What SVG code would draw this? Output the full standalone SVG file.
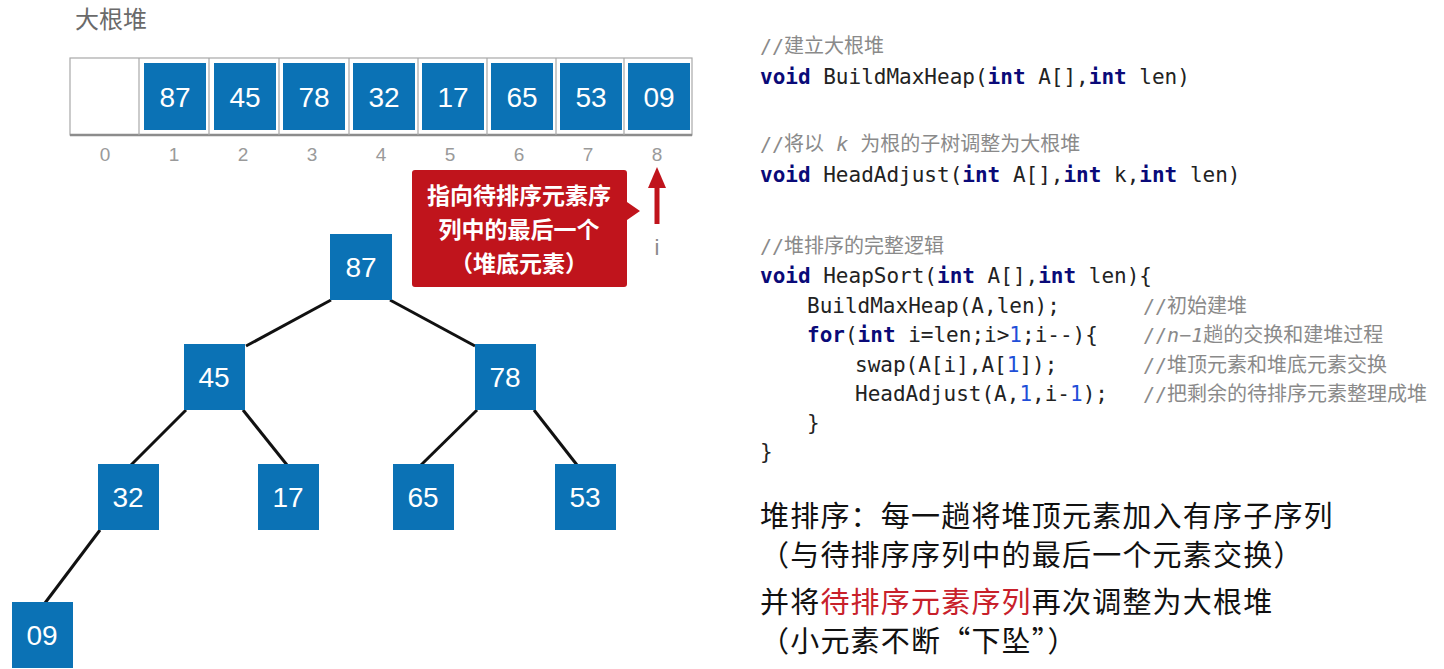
<svg xmlns="http://www.w3.org/2000/svg" width="1444" height="669" viewBox="0 0 1444 669">
<style>
.node rect{fill:#0B72B5}
.num{font-family:"Liberation Sans",Arial,sans-serif;font-size:28px;fill:#fff;text-anchor:middle}
.idx{font-family:"Liberation Sans",Arial,sans-serif;font-size:19px;fill:#9a9a9a;text-anchor:middle}
.code{font-family:"DejaVu Sans Mono","Noto Sans CJK SC",monospace;font-size:21px;fill:#222}
.cm{fill:#8a8a8a;font-size:20px}
.kw{fill:#0a0a78;font-weight:bold}
.n{fill:#1f4fd8}
.big{font-family:"Noto Sans CJK SC","Liberation Sans",sans-serif;font-size:29px;letter-spacing:1.2px;fill:#111}
.edge{stroke:#111;stroke-width:3;fill:none}
</style>
<rect width="1444" height="669" fill="#fff"/>
<text x="75" y="28" font-family="Noto Sans CJK SC, sans-serif" font-size="24" fill="#6a6a6a">大根堆</text>

<g id="array">
<rect x="70" y="58" width="622" height="77" fill="#fff" stroke="#a8a8a8" stroke-width="1.2"/>
<line x1="70" y1="135" x2="692" y2="135" stroke="#8c8c8c" stroke-width="2.5"/>
<g stroke="#a8a8a8" stroke-width="1.2">
<line x1="139" y1="58" x2="139" y2="135"/><line x1="209" y1="58" x2="209" y2="135"/><line x1="279" y1="58" x2="279" y2="135"/><line x1="349" y1="58" x2="349" y2="135"/><line x1="418" y1="58" x2="418" y2="135"/><line x1="487" y1="58" x2="487" y2="135"/><line x1="556" y1="58" x2="556" y2="135"/><line x1="624" y1="58" x2="624" y2="135"/>
</g>
<g class="node">
<rect x="144" y="63" width="62" height="67"/><rect x="214" y="63" width="62" height="67"/><rect x="283" y="63" width="62" height="67"/><rect x="353" y="63" width="62" height="67"/><rect x="422" y="63" width="62" height="67"/><rect x="491" y="63" width="62" height="67"/><rect x="560" y="63" width="62" height="67"/><rect x="628" y="63" width="62" height="67"/>
</g>
<text class="num" x="175" y="107">87</text><text class="num" x="245" y="107">45</text><text class="num" x="314" y="107">78</text><text class="num" x="384" y="107">32</text><text class="num" x="453" y="107">17</text><text class="num" x="522" y="107">65</text><text class="num" x="591" y="107">53</text><text class="num" x="659" y="107">09</text>
<text class="idx" x="105" y="161">0</text><text class="idx" x="174" y="161">1</text><text class="idx" x="243" y="161">2</text><text class="idx" x="312" y="161">3</text><text class="idx" x="381" y="161">4</text><text class="idx" x="450" y="161">5</text><text class="idx" x="519" y="161">6</text><text class="idx" x="588" y="161">7</text><text class="idx" x="657" y="161">8</text>
</g>

<g id="callout">
<path d="M415 170 H624 a3 3 0 0 1 3 3 V202 L640 211 L627 220 V284 a3 3 0 0 1 -3 3 H415 a3 3 0 0 1 -3 -3 V173 a3 3 0 0 1 3 -3 Z" fill="#C0141C"/>
<g font-family="Noto Sans CJK SC, sans-serif" font-size="23" font-weight="bold" fill="#fff" text-anchor="middle">
<text x="519" y="204">指向待排序元素序</text>
<text x="519" y="238">列中的最后一个</text>
<text x="519" y="272">（堆底元素）</text>
</g>
</g>

<g id="pointer-i">
<line x1="657" y1="186" x2="657" y2="224" stroke="#C0141C" stroke-width="5"/>
<polygon points="657,167 666,188 648,188" fill="#C0141C"/>
<text x="657" y="255" font-family="Liberation Sans, sans-serif" font-size="22" fill="#8a8a8a" text-anchor="middle">i</text>
</g>

<g id="connectors">
<line class="edge" x1="331" y1="300" x2="246" y2="346"/>
<line class="edge" x1="390" y1="300" x2="475" y2="346"/>
<line class="edge" x1="186" y1="410" x2="131" y2="465"/>
<line class="edge" x1="243" y1="410" x2="287" y2="465"/>
<line class="edge" x1="477" y1="410" x2="421" y2="465"/>
<line class="edge" x1="534" y1="410" x2="577" y2="465"/>
<line class="edge" x1="100" y1="530" x2="45" y2="603"/>
</g>

<g id="n87" class="node"><rect x="330" y="234" width="62" height="66"/><text class="num" x="361" y="277">87</text></g>
<g id="n45" class="node"><rect x="184" y="344" width="61" height="66"/><text class="num" x="214" y="387">45</text></g>
<g id="n78" class="node"><rect x="475" y="344" width="61" height="66"/><text class="num" x="505" y="387">78</text></g>
<g id="n32" class="node"><rect x="98" y="464" width="61" height="66"/><text class="num" x="128" y="507">32</text></g>
<g id="n17" class="node"><rect x="258" y="464" width="61" height="66"/><text class="num" x="288" y="507">17</text></g>
<g id="n65" class="node"><rect x="393" y="464" width="61" height="66"/><text class="num" x="423" y="507">65</text></g>
<g id="n53" class="node"><rect x="555" y="464" width="61" height="66"/><text class="num" x="585" y="507">53</text></g>
<g id="n09" class="node"><rect x="12" y="602" width="61" height="66"/><text class="num" x="42" y="645">09</text></g>

<g id="code" class="code">
<text x="760" y="53" class="cm">//建立大根堆</text>
<text x="760" y="84"><tspan class="kw">void</tspan> BuildMaxHeap(<tspan class="kw">int</tspan> A[],<tspan class="kw">int</tspan> len)</text>
<text x="760" y="151" class="cm">//将以 <tspan font-style="italic">k</tspan> 为根的子树调整为大根堆</text>
<text x="760" y="182"><tspan class="kw">void</tspan> HeadAdjust(<tspan class="kw">int</tspan> A[],<tspan class="kw">int</tspan> k,<tspan class="kw">int</tspan> len)</text>
<text x="760" y="253" class="cm">//堆排序的完整逻辑</text>
<text x="760" y="283"><tspan class="kw">void</tspan> HeapSort(<tspan class="kw">int</tspan> A[],<tspan class="kw">int</tspan> len){</text>
<text x="807" y="313">BuildMaxHeap(A,len);</text>
<text x="1143" y="313" class="cm">//初始建堆</text>
<text x="807" y="342"><tspan class="kw">for</tspan>(<tspan class="kw">int</tspan> i=len;i&gt;<tspan class="n">1</tspan>;i--){</text>
<text x="1143" y="342" class="cm">//<tspan font-style="italic">n−1</tspan>趟的交换和建堆过程</text>
<text x="855" y="372">swap(A[i],A[<tspan class="n">1</tspan>]);</text>
<text x="1143" y="372" class="cm">//堆顶元素和堆底元素交换</text>
<text x="855" y="401">HeadAdjust(A,<tspan class="n">1</tspan>,i-<tspan class="n">1</tspan>);</text>
<text x="1143" y="401" class="cm">//把剩余的待排序元素整理成堆</text>
<text x="807" y="430">}</text>
<text x="760" y="459">}</text>
</g>

<g id="summary" class="big">
<text x="760" y="527">堆排序：每一趟将堆顶元素加入有序子序列</text>
<text x="760" y="566">（与待排序序列中的最后一个元素交换）</text>
<text x="760" y="613">并将<tspan fill="#C8202A">待排序元素序列</tspan>再次调整为大根堆</text>
<text x="760" y="652">（小元素不断“下坠”）</text>
</g>
</svg>
